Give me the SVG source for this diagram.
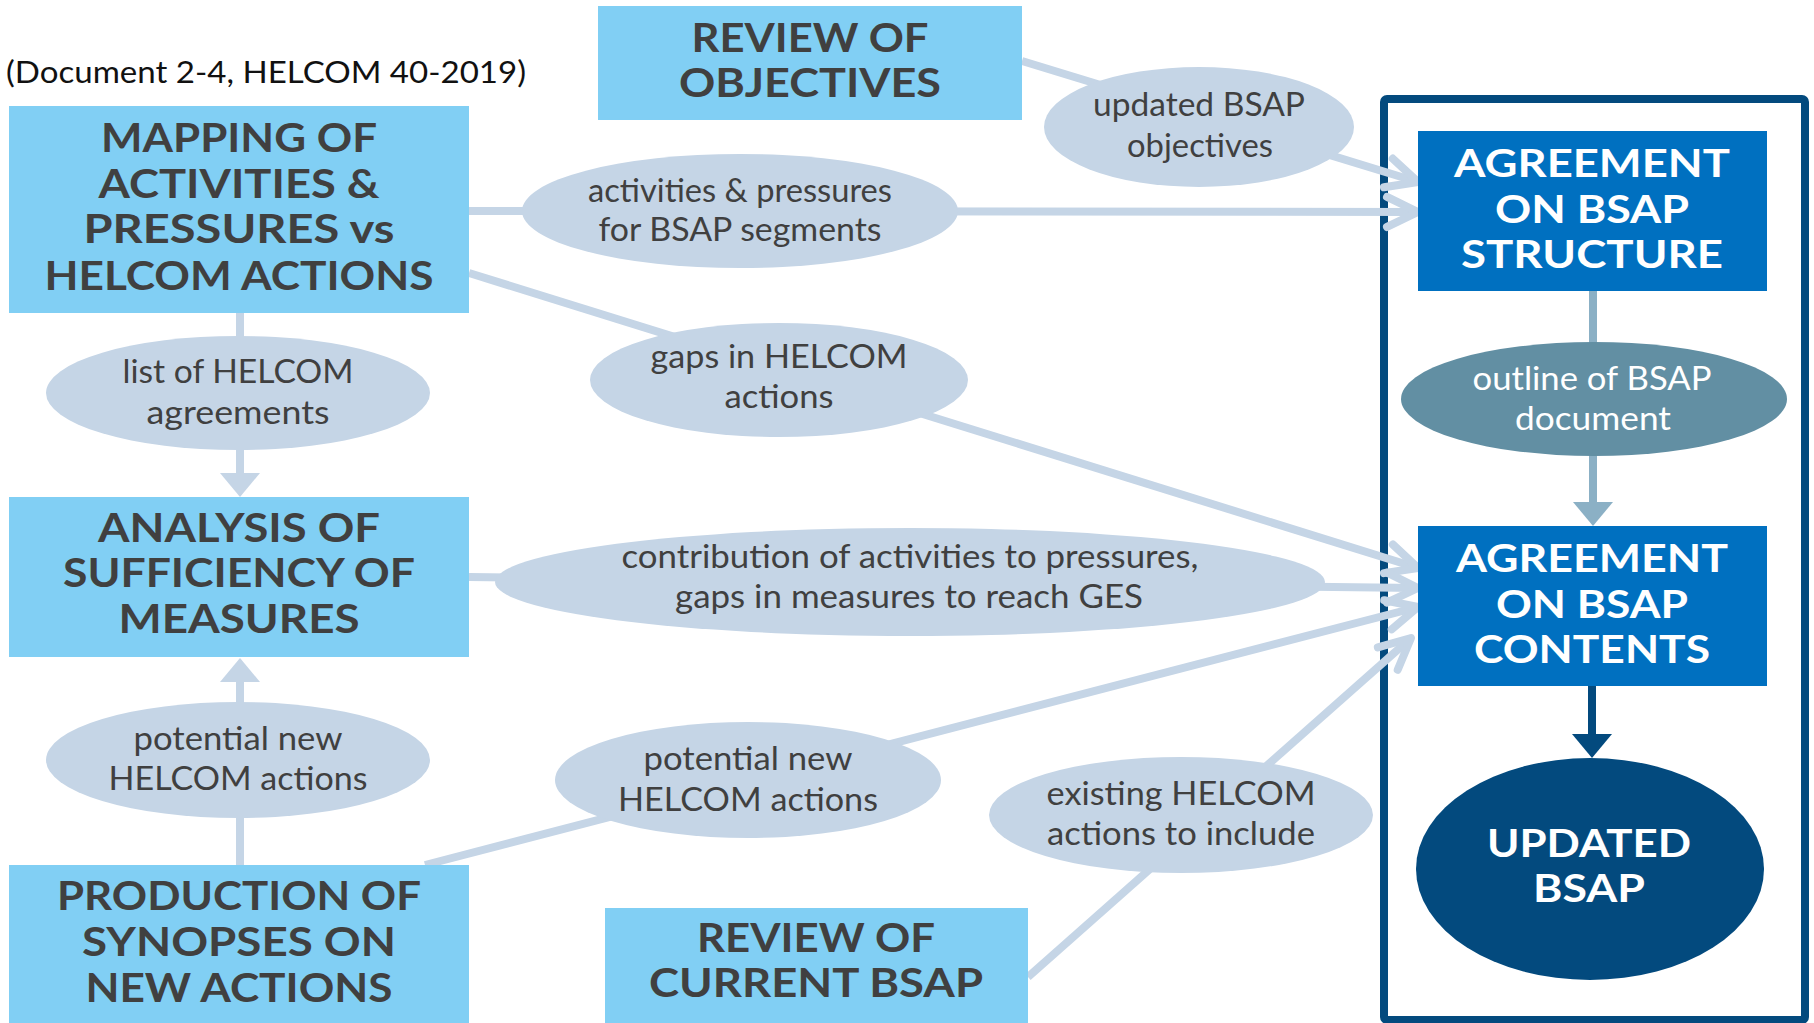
<svg xmlns="http://www.w3.org/2000/svg" width="1814" height="1023" viewBox="0 0 1814 1023">
<style>
text{font-family:Lato,"Open Sans","Liberation Sans",sans-serif;text-anchor:middle}
.hd{font-size:41px;font-weight:700;fill:#404040}
.wh{font-size:39px;font-weight:700;fill:#ffffff}
.lb{font-size:32px;fill:#404040}
.lbw{font-size:32px;fill:#ffffff}
.box{fill:#81CFF4}
.dbox{fill:#0070C0}
.ell{fill:#C5D5E6}
.conn{stroke:#C5D5E6;stroke-width:8;fill:none}
</style>
<defs>
<marker id="chev" markerUnits="userSpaceOnUse" viewBox="-40 -22 46 44" refX="0" refY="0" markerWidth="46" markerHeight="44" orient="auto">
<path d="M-31,-15 L0,0 L-31,15" fill="none" stroke="#C5D5E6" stroke-width="8" stroke-linecap="round" stroke-linejoin="round"/>
</marker>
<marker id="triL" markerUnits="userSpaceOnUse" viewBox="0 -21 25 42" refX="0" refY="0" markerWidth="25" markerHeight="42" orient="auto">
<path d="M0,-20 L24,0 L0,20 z" fill="#C5D5E6"/>
</marker>
<marker id="triM" markerUnits="userSpaceOnUse" viewBox="0 -21 25 42" refX="0" refY="0" markerWidth="25" markerHeight="42" orient="auto">
<path d="M0,-20 L24,0 L0,20 z" fill="#8BB0C5"/>
</marker>
<marker id="triD" markerUnits="userSpaceOnUse" viewBox="0 -21 25 42" refX="0" refY="0" markerWidth="25" markerHeight="42" orient="auto">
<path d="M0,-20 L24,0 L0,20 z" fill="#034A7E"/>
</marker>
</defs>
<rect width="1814" height="1023" fill="#ffffff"/>

<text x="6" y="83" style="text-anchor:start;font-size:30px;fill:#111111" textLength="520" lengthAdjust="spacingAndGlyphs">(Document 2-4, HELCOM 40-2019)</text>

<g id="frame">
<rect x="1384" y="99" width="421" height="921" rx="3" fill="none" stroke="#034A7E" stroke-width="8"/>
</g>

<g id="connectors">
<line class="conn" x1="469" y1="211" x2="1418" y2="212" marker-end="url(#chev)"/>
<line class="conn" x1="1022" y1="61" x2="1418" y2="182" marker-end="url(#chev)"/>
<line class="conn" x1="469" y1="273" x2="1418" y2="568" marker-end="url(#chev)"/>
<line class="conn" x1="469" y1="577" x2="1418" y2="588" marker-end="url(#chev)"/>
<line class="conn" x1="425" y1="865" x2="1418" y2="607" marker-end="url(#chev)"/>
<line class="conn" x1="1028" y1="977" x2="1411" y2="638" marker-end="url(#chev)"/>
<line class="conn" x1="240" y1="313" x2="240" y2="473" marker-end="url(#triL)"/>
<line class="conn" x1="240" y1="865" x2="240" y2="682" marker-end="url(#triL)"/>
<line stroke="#8BB0C5" stroke-width="8" x1="1593" y1="291" x2="1593" y2="502" marker-end="url(#triM)"/>
<line stroke="#034A7E" stroke-width="8" x1="1592" y1="686" x2="1592" y2="734" marker-end="url(#triD)"/>
</g>

<g id="mapping">
<rect class="box" x="9" y="106" width="460" height="207"/>
<text class="hd" x="239" y="152" textLength="276" lengthAdjust="spacingAndGlyphs">MAPPING OF</text>
<text class="hd" x="239" y="198" textLength="281" lengthAdjust="spacingAndGlyphs">ACTIVITIES &amp;</text>
<text class="hd" x="239" y="243" textLength="311" lengthAdjust="spacingAndGlyphs">PRESSURES vs</text>
<text class="hd" x="239" y="290" textLength="389" lengthAdjust="spacingAndGlyphs">HELCOM ACTIONS</text>
</g>

<g id="analysis">
<rect class="box" x="9" y="497" width="460" height="160"/>
<text class="hd" x="239" y="542" textLength="282" lengthAdjust="spacingAndGlyphs">ANALYSIS OF</text>
<text class="hd" x="239" y="587" textLength="352" lengthAdjust="spacingAndGlyphs">SUFFICIENCY OF</text>
<text class="hd" x="239" y="633" textLength="241" lengthAdjust="spacingAndGlyphs">MEASURES</text>
</g>

<g id="production">
<rect class="box" x="9" y="865" width="460" height="158"/>
<text class="hd" x="239" y="910" textLength="364" lengthAdjust="spacingAndGlyphs">PRODUCTION OF</text>
<text class="hd" x="239" y="956" textLength="314" lengthAdjust="spacingAndGlyphs">SYNOPSES ON</text>
<text class="hd" x="239" y="1002" textLength="307" lengthAdjust="spacingAndGlyphs">NEW ACTIONS</text>
</g>

<g id="review-objectives">
<rect class="box" x="598" y="6" width="424" height="114"/>
<text class="hd" x="810" y="52" textLength="237" lengthAdjust="spacingAndGlyphs">REVIEW OF</text>
<text class="hd" x="810" y="97" textLength="262" lengthAdjust="spacingAndGlyphs">OBJECTIVES</text>
</g>

<g id="review-current">
<rect class="box" x="605" y="908" width="423" height="115"/>
<text class="hd" x="816" y="952" textLength="238" lengthAdjust="spacingAndGlyphs">REVIEW OF</text>
<text class="hd" x="816" y="997" textLength="334" lengthAdjust="spacingAndGlyphs">CURRENT BSAP</text>
</g>

<g id="agreement-structure">
<rect class="dbox" x="1418" y="131" width="349" height="160"/>
<text class="wh" x="1592" y="177" textLength="276" lengthAdjust="spacingAndGlyphs">AGREEMENT</text>
<text class="wh" x="1592" y="223" textLength="194" lengthAdjust="spacingAndGlyphs">ON BSAP</text>
<text class="wh" x="1592" y="268" textLength="262" lengthAdjust="spacingAndGlyphs">STRUCTURE</text>
</g>

<g id="agreement-contents">
<rect class="dbox" x="1418" y="526" width="349" height="160"/>
<text class="wh" x="1592" y="572" textLength="272" lengthAdjust="spacingAndGlyphs">AGREEMENT</text>
<text class="wh" x="1592" y="618" textLength="192" lengthAdjust="spacingAndGlyphs">ON BSAP</text>
<text class="wh" x="1592" y="663" textLength="236" lengthAdjust="spacingAndGlyphs">CONTENTS</text>
</g>

<g id="updated-bsap">
<ellipse cx="1590" cy="869" rx="174" ry="111" fill="#034A7E"/>
<text class="wh" x="1589" y="857" textLength="204" lengthAdjust="spacingAndGlyphs">UPDATED</text>
<text class="wh" x="1589" y="902" textLength="112" lengthAdjust="spacingAndGlyphs">BSAP</text>
</g>

<g id="activities-pressures">
<ellipse class="ell" cx="740" cy="211" rx="218" ry="57"/>
<text class="lb" x="740" y="202" textLength="304" lengthAdjust="spacingAndGlyphs">activities &amp; pressures</text>
<text class="lb" x="740" y="241" textLength="283" lengthAdjust="spacingAndGlyphs">for BSAP segments</text>
</g>

<g id="updated-objectives">
<ellipse class="ell" cx="1199" cy="127" rx="155" ry="60"/>
<text class="lb" x="1199" y="116" textLength="212" lengthAdjust="spacingAndGlyphs">updated BSAP</text>
<text class="lb" x="1200" y="157" textLength="146" lengthAdjust="spacingAndGlyphs">objectives</text>
</g>

<g id="list-agreements">
<ellipse class="ell" cx="238" cy="393" rx="192" ry="57"/>
<text class="lb" x="238" y="383" textLength="231" lengthAdjust="spacingAndGlyphs">list of HELCOM</text>
<text class="lb" x="238" y="424" textLength="183" lengthAdjust="spacingAndGlyphs">agreements</text>
</g>

<g id="gaps-actions">
<ellipse class="ell" cx="779" cy="380" rx="189" ry="57"/>
<text class="lb" x="779" y="368" textLength="257" lengthAdjust="spacingAndGlyphs">gaps in HELCOM</text>
<text class="lb" x="779" y="408" textLength="109" lengthAdjust="spacingAndGlyphs">actions</text>
</g>

<g id="outline-document">
<ellipse cx="1594" cy="399" rx="193" ry="57" fill="#628FA3"/>
<text class="lbw" x="1592" y="390" textLength="239" lengthAdjust="spacingAndGlyphs">outline of BSAP</text>
<text class="lbw" x="1593" y="430" textLength="156" lengthAdjust="spacingAndGlyphs">document</text>
</g>

<g id="contribution">
<ellipse class="ell" cx="910" cy="582" rx="415" ry="54"/>
<text class="lb" x="910" y="568" textLength="577" lengthAdjust="spacingAndGlyphs">contribution of activities to pressures,</text>
<text class="lb" x="909" y="608" textLength="468" lengthAdjust="spacingAndGlyphs">gaps in measures to reach GES</text>
</g>

<g id="potential-left">
<ellipse class="ell" cx="238" cy="760" rx="192" ry="58"/>
<text class="lb" x="238" y="750" textLength="209" lengthAdjust="spacingAndGlyphs">potential new</text>
<text class="lb" x="238" y="790" textLength="259" lengthAdjust="spacingAndGlyphs">HELCOM actions</text>
</g>

<g id="potential-middle">
<ellipse class="ell" cx="748" cy="780" rx="193" ry="58"/>
<text class="lb" x="748" y="770" textLength="209" lengthAdjust="spacingAndGlyphs">potential new</text>
<text class="lb" x="748" y="811" textLength="260" lengthAdjust="spacingAndGlyphs">HELCOM actions</text>
</g>

<g id="existing-actions">
<ellipse class="ell" cx="1181" cy="815" rx="192" ry="58"/>
<text class="lb" x="1181" y="805" textLength="269" lengthAdjust="spacingAndGlyphs">existing HELCOM</text>
<text class="lb" x="1181" y="845" textLength="268" lengthAdjust="spacingAndGlyphs">actions to include</text>
</g>
</svg>
